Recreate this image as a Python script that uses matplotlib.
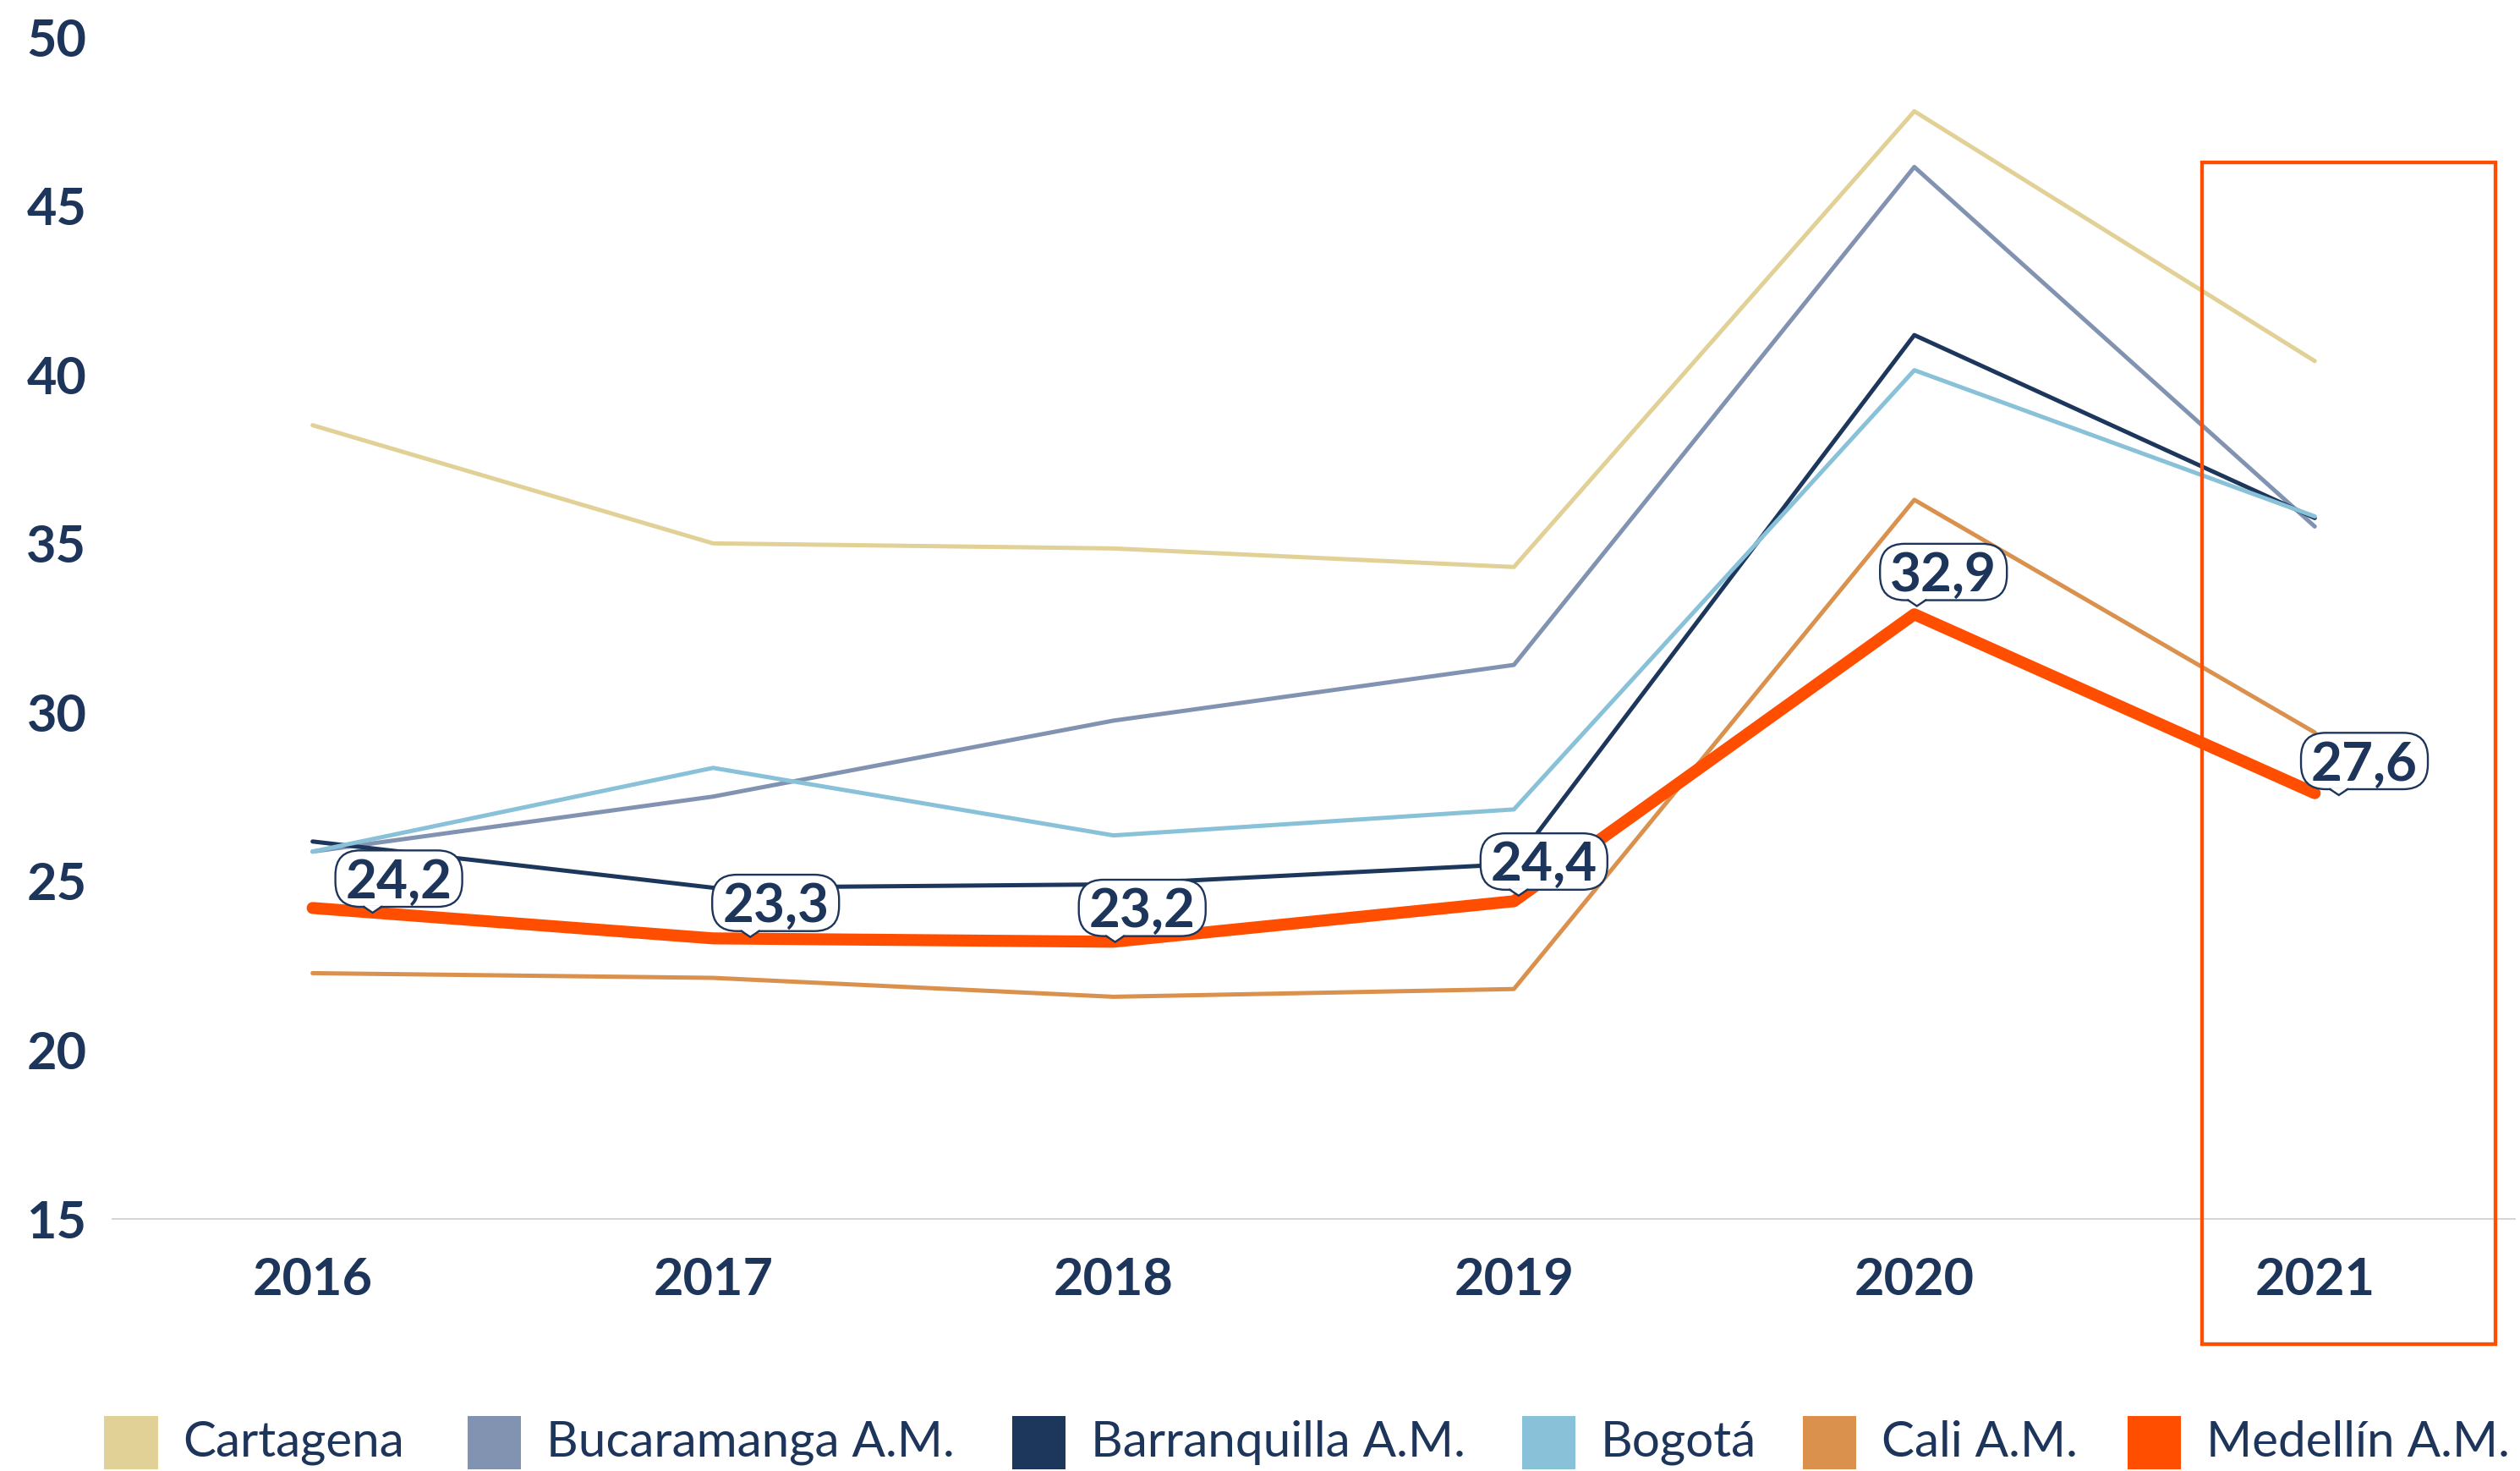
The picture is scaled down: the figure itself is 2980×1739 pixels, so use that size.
import matplotlib
matplotlib.use("Agg")
import matplotlib.pyplot as plt
from matplotlib.patches import Rectangle, FancyBboxPatch, Polygon
from matplotlib.lines import Line2D
from matplotlib import transforms

plt.rcParams['font.family'] = ['Lato', 'DejaVu Sans']

years = ["2016", "2017", "2018", "2019", "2020", "2021"]
series_names = ["Cartagena", "Bucaramanga A.M.", "Barranquilla A.M.", "Bogotá", "Cali A.M.", "Medellín A.M."]
cartagena = [38.5, 35.0, 34.85, 34.3, 47.8, 40.4]
bucaramanga = [25.87, 27.5, 29.75, 31.4, 46.15, 35.5]
barranquilla = [26.17, 24.8, 24.9, 25.5, 41.17, 35.75]
bogota = [25.87, 28.35, 26.35, 27.12, 40.13, 35.8]
cali = [22.27, 22.13, 21.57, 21.8, 36.29, 29.4]
medellin = [24.2, 23.3, 23.2, 24.4, 32.9, 27.6]
medellin_labels = ["24,2", "23,3", "23,2", "24,4", "32,9", "27,6"]
yticks = [15, 20, 25, 30, 35, 40, 45, 50]

colors = ["#E2D196", "#8293B2", "#1C365C", "#88C1D8", "#DA914D", "#FF4E00"]
navy = "#1D355A"

fig = plt.figure(figsize=(29.8, 17.39), dpi=100)
ax = fig.add_axes([0.0446, 0.17159, 0.9534, 0.80328])

x = list(range(len(years)))
all_series = [cartagena, bucaramanga, barranquilla, bogota, cali, medellin]
for i, (name, vals, c) in enumerate(zip(series_names, all_series, colors)):
    lw = 10.2 if i == 5 else 3.6
    ax.plot(x, vals, color=c, lw=lw, solid_capstyle='round', solid_joinstyle='round',
            zorder=5 if i == 5 else 3, label=name)

ax.set_xlim(-0.5, 5.5)
ax.set_ylim(15, 50)
ax.set_xticks(x)
ax.set_xticklabels(years)
ax.set_yticks(yticks)
for s in ["top", "right", "left"]:
    ax.spines[s].set_visible(False)
ax.spines["bottom"].set_color("#D6D6D6")
ax.spines["bottom"].set_linewidth(1.5)
ax.tick_params(axis='both', length=0, labelsize=44, labelcolor=navy)
ax.tick_params(axis='x', pad=32)
ax.tick_params(axis='y', pad=22)
for lab in ax.get_xticklabels() + ax.get_yticklabels():
    lab.set_fontweight('bold')

# speech-bubble callouts for Medellín (geometry in points, anchored on the data point)
box_offsets = [(73.4, 25.0), (53.3, 30.2), (24.5, 28.8), (25.6, 33.8), (24.8, 36.0), (42.3, 27.4)]
tip_offsets = [51.1, 31.7, 1.4, 4.0, 2.2, 20.5]
bw, bh = 108.0, 48.0
pw, ph = 7.5, 5.0
fs = 46
cap = 0.7165 * fs
for xi, v, txt, (dx, dy), tx in zip(x, medellin, medellin_labels, box_offsets, tip_offsets):
    tr = (transforms.Affine2D().scale(1 / 72.0) + fig.dpi_scale_trans
          + transforms.ScaledTranslation(xi, v, ax.transData))
    box = FancyBboxPatch((dx - bw / 2, dy - bh / 2), bw, bh,
                         boxstyle="round,pad=0,rounding_size=21",
                         fc='white', ec=navy, lw=1.7, transform=tr, zorder=8, clip_on=False)
    fig.add_artist(box)
    yb = dy - bh / 2
    tri = Polygon([(tx - pw, yb + 1.2), (tx + pw, yb + 1.2), (tx, yb - ph)], closed=True,
                  fc='white', ec='none', transform=tr, zorder=8.5, clip_on=False)
    fig.add_artist(tri)
    fig.add_artist(Line2D([tx - pw, tx, tx + pw], [yb, yb - ph, yb], color=navy, lw=1.7,
                          transform=tr, zorder=8.6, solid_joinstyle='miter', clip_on=False))
    fig.text(dx, dy - cap / 2, txt, transform=tr, ha='center', va='baseline',
             fontsize=fs, fontweight='bold', color=navy, zorder=9)

# highlight box around 2021
rect = Rectangle((4.719, 11.28), 5.452 - 4.719, 46.29 - 11.28, fill=False,
                 ec="#FF4E00", lw=3.1, clip_on=False, zorder=10)
ax.add_patch(rect)

# legend, drawn manually
legend_x = [123.5, 553, 1197, 1800, 2132, 2516]
W, H = 2980, 1739
sq = 63
for name, c, lx in zip(series_names, colors, legend_x):
    fig.add_artist(Rectangle((lx / W, (H - 1737) / H), sq / W, sq / H,
                             transform=fig.transFigure, fc=c, ec='none'))
    fig.text((lx + sq + 30) / W, (H - 1706) / H, name, fontsize=42, color=navy,
             ha='left', va='center')

fig.savefig("out.png", dpi=100)
